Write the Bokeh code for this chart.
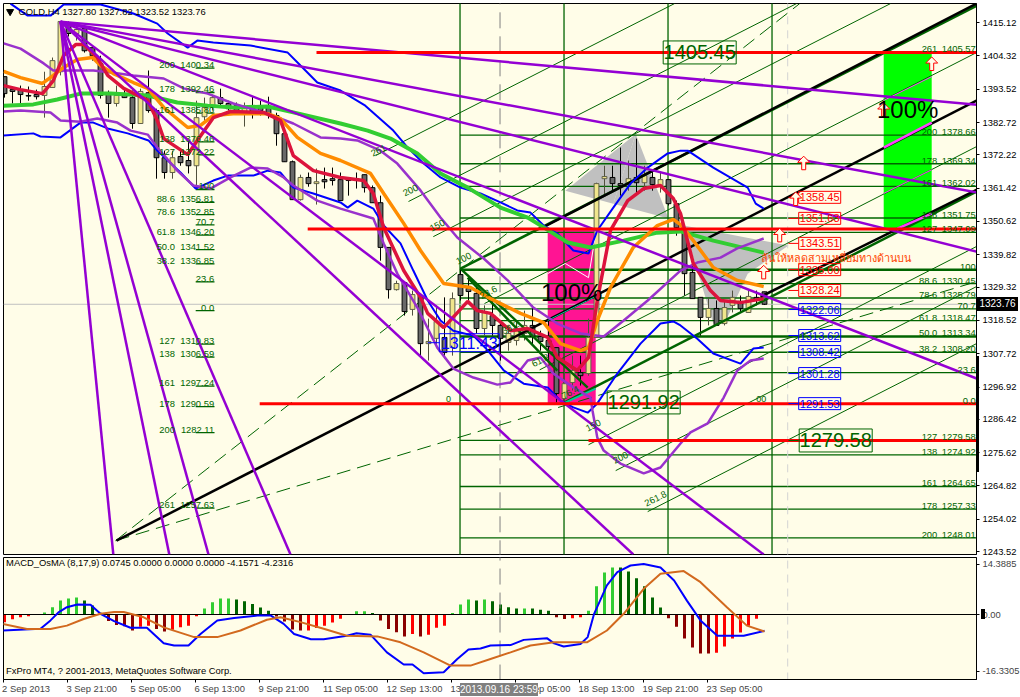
from bokeh.plotting import figure
from bokeh.layouts import column
from bokeh.models import Range1d, FixedTicker, Div, PrintfTickFormatter
from bokeh.core.properties import value
from bokeh.embed import file_html
from bokeh.resources import INLINE

FONT = "Liberation Sans"
BG = "#FFFDE8"
DG = "#006400"
TS = 9.4

# ---------- candles (bar index is the list position) ----------
opens = [1397.6,1393.4,1393.4,1391.5,1391.8,1391.5,1394.1,1399.2,1414.5,1411.6,1413.2,1407.0,1401.8,1391.8,1388.9,1391.8,1390.8,1382.4,1392.4,1386.6,1371.3,1366.5,1371.7,1370.4,1368.7,1384.6,1387.9,1390.8,1388.9,1388.2,1385.9,1387.6,1387.6,1387.9,1385.0,1379.1,1370.0,1357.7,1364.9,1362.9,1364.2,1364.5,1364.2,1364.5,1364.5,1365.8,1361.6,1356.7,1342.2,1328.5,1330.8,1322.1,1326.6,1311.0,1312.7,1313.0,1309.7,1333.4,1328.9,1327.3,1315.9,1320.1,1316.9,1311.4,1312.0,1314.3,1316.9,1313.3,1312.0,1309.7,1293.2,1298.4,1301.6,1301.3,1313.0,1364.5,1364.9,1362.9,1362.6,1364.9,1363.2,1364.9,1362.3,1364.2,1356.4,1347.6,1334.1,1326.0,1319.5,1322.4,1317.5,1323.4,1324.7,1321.1,1326.0,1327.8]
highs = [1397.6,1393.4,1394.7,1394.4,1393.4,1399.2,1403.8,1415.6,1415.5,1414.5,1414.2,1407.7,1404.4,1393.1,1394.7,1393.7,1393.1,1393.7,1399.6,1387.2,1373.6,1373.6,1373.6,1376.8,1389.8,1390.8,1391.8,1393.7,1389.8,1389.2,1389.2,1391.1,1389.8,1391.1,1385.9,1380.1,1370.4,1365.8,1366.5,1367.8,1368.1,1368.1,1366.5,1364.5,1366.5,1365.8,1362.3,1359.0,1342.2,1331.4,1330.8,1328.2,1326.6,1319.1,1323.4,1326.0,1327.6,1335.4,1333.0,1329.8,1323.4,1325.0,1318.5,1316.9,1318.5,1321.7,1323.4,1315.2,1318.5,1309.7,1302.3,1307.1,1307.1,1319.1,1363.2,1368.7,1368.7,1374.6,1370.4,1377.5,1368.7,1367.1,1366.5,1364.2,1357.4,1349.3,1336.3,1326.0,1326.0,1325.0,1325.0,1328.2,1326.6,1328.2,1328.2,1327.82]
lows = [1390.8,1388.9,1388.9,1389.8,1390.2,1384.3,1394.1,1398.0,1410.6,1409.3,1405.4,1402.8,1390.5,1384.3,1387.9,1390.8,1380.7,1382.4,1385.9,1364.5,1364.5,1364.5,1368.7,1366.2,1361.3,1383.3,1386.6,1387.6,1386.6,1385.9,1381.4,1384.0,1385.0,1384.0,1375.2,1370.0,1357.7,1357.4,1361.9,1356.1,1361.3,1362.3,1357.4,1359.0,1361.3,1360.0,1356.7,1337.9,1325.6,1328.2,1320.1,1320.1,1307.1,1305.5,1310.4,1306.2,1307.1,1325.0,1325.0,1314.3,1313.6,1313.6,1305.5,1308.7,1310.4,1312.0,1310.4,1308.7,1305.5,1291.9,1291.9,1295.8,1297.4,1300.6,1313.0,1359.0,1360.6,1359.0,1360.6,1359.0,1360.6,1360.6,1360.0,1355.8,1346.0,1326.6,1325.6,1313.6,1316.9,1316.9,1316.9,1321.1,1321.1,1321.1,1323.4,1323.52]
closes = [1392.1,1392.8,1391.8,1391.3,1391.1,1394.4,1402.8,1415.5,1411.6,1412.9,1406.0,1404.4,1391.5,1388.9,1391.5,1390.8,1382.4,1392.8,1386.6,1371.3,1366.5,1371.3,1369.7,1368.7,1384.3,1387.6,1390.8,1388.9,1387.2,1386.6,1387.6,1385.9,1386.6,1385.6,1379.1,1370.0,1357.7,1364.9,1362.9,1363.5,1363.5,1363.9,1357.4,1363.9,1363.9,1361.6,1356.7,1342.2,1328.5,1330.5,1321.4,1326.9,1311.0,1311.7,1318.2,1308.1,1325.6,1326.6,1327.9,1315.9,1321.1,1316.9,1312.7,1314.3,1315.2,1316.9,1313.3,1311.7,1310.0,1294.8,1298.0,1302.3,1300.6,1313.0,1362.9,1365.2,1362.9,1362.3,1364.5,1363.2,1365.5,1362.6,1364.2,1356.4,1348.6,1333.7,1325.6,1319.5,1322.4,1316.9,1322.7,1326.0,1322.4,1326.3,1325.0,1323.76]

# ---------- indicator lines: bar position, price ----------
blue_up_x = [.75,2.9,5.75,7.4,12,16.1,19.1,20.4,22.9,24.1,26.1,30.75,35.4,37,39.1,42,45.1,48.6,50.4,52.4,54.5,57,59.5,62,64.1,65.75,67.4,69.1,71.1,73,74.1,76.1,78.25,80.4,82.9,84.5,85.4,88.6,92.9,93.9,94.9]
blue_up_y = [1421.3,1417.4,1417.4,1421.0,1421.0,1418.1,1414.8,1411.6,1407.0,1409.3,1408.7,1407.7,1405.4,1401.2,1395.7,1393.1,1388.2,1380.1,1374.6,1369.4,1364.9,1361.6,1359.7,1356.8,1354.2,1353.5,1349.3,1346.7,1341.2,1340.2,1347.7,1355.1,1362.9,1368.1,1372.7,1373.6,1373.6,1368.1,1361.6,1356.4,1354.8]
blue_lo_x = [-.1,3.6,4.5,7,9.5,11.1,12.9,15.4,18,19.1,22,23.9,26.1,27.9,31.1,32.9,34.5,36.1,38.6,42,42.9,44.1,46.1,47.4,49.5,51.1,52.9,54.5,56.1,58.6,60.4,62.4,64.9,67.9,69.5,71.1,72.9,74.1,76.6,79.5,82,83.6,84.5,86.6,88.6,92,93.6,94.9]
blue_lo_y = [1378.5,1379.2,1378.2,1377.9,1382.7,1382.7,1380.8,1379.2,1376.9,1373.6,1366.5,1361.3,1363.9,1365.5,1365.5,1367.1,1366.5,1361.6,1359.7,1356.8,1355.1,1357.4,1354.8,1349.3,1343.5,1334.7,1325.0,1318.5,1315.2,1313.6,1308.8,1302.3,1298.0,1296.8,1292.5,1290.3,1288.6,1291.6,1301.3,1311.0,1317.5,1318.2,1316.9,1312.6,1307.8,1304.5,1309.4,1309.7]
purp_up_x = [-.1,2,4.9,6.1,11.1,13.6,16.1,19.9,22.4,25.4,28.6,32.9,36.1,39.5,42,44.1,47,49.1,52,54.5,56.6,59.9,62.9,66.1,69.1,72,74.9,77.4,80.4,84.5,86.6,89.5,91.6,94.9]
purp_up_y = [1408.4,1406.7,1401.9,1399.6,1399.6,1398.9,1398.0,1397.0,1393.8,1392.1,1388.9,1385.6,1382.4,1377.9,1377.5,1376.9,1373.6,1369.4,1360.7,1351.9,1345.4,1338.6,1331.5,1322.7,1317.5,1314.3,1313.3,1318.5,1325.0,1334.7,1337.3,1338.9,1341.9,1345.1]
purp_lo_x = [-.1,2,5.75,7,9.5,11.6,14.1,15.75,17.9,19.1,21.6,23.6,25.75,28.25,30.75,32.9,34.9,36.1,39.1,42,46.1,47.4,49.1,51.6,54.1,56.1,58.6,61.6,63.25,65.4,67,68.6,71.1,73.25,73.5,74.1,74.9,77,79.9,82,84.5,85.75,87.9,89.9,91.6,93.25,94.9]
purp_lo_y = [1386.3,1386.6,1386,1383.4,1383,1384,1382.7,1380.1,1378.8,1374.6,1367.1,1362.3,1361.3,1364.9,1368.1,1367.8,1364.9,1362.3,1357.4,1354.8,1351.6,1343.5,1333.7,1322.7,1309.7,1302.9,1300,1297.7,1298.4,1305.5,1306.5,1301.3,1296.8,1293.5,1289.3,1280.5,1276.3,1272.1,1268.9,1270.8,1278.6,1282.2,1285.1,1293.5,1302.3,1305.5,1306.2]
orange_x = [-.1,2,4.75,6.1,7.4,9.1,11,12,13.6,16.1,17.9,19.9,22.9,24.5,26.1,28.6,32.9,34.5,36.6,39.5,42,45.75,47.4,49.9,52,54.9,58.25,60.75,64.5,67.4,69.5,72,73,74.1,75.75,78.6,81.6,83.6,84.5,86.1,88.6,91.6,94.9]
orange_y = [1399.3,1397.3,1395.4,1398,1400.6,1403.2,1403.8,1401.2,1398.6,1395.7,1393.8,1387.6,1381.1,1381.8,1385,1385.6,1385.6,1384,1377.9,1372.7,1370.4,1366.2,1359.7,1350,1341.2,1330.5,1329.2,1325.6,1320.8,1317.8,1311,1308.7,1309.7,1318.5,1329.2,1342.2,1349.3,1351.3,1349.6,1344.4,1335.7,1331.5,1329.5]
red_x = [-.1,2,4.75,6.1,7.4,8.9,9.9,11.6,12.9,14.9,17.9,19.1,19.9,22.9,24.1,26.1,28.25,32.4,34.5,36.1,38.6,42,44.9,46.1,47.4,49.9,52,52.9,54.9,57.9,59.1,60.75,63.25,65.4,67.9,69.1,71.6,73,74.1,75.75,77.9,79.9,82,83.6,84.5,86.1,88.25,89.5,92,94.9]
red_y = [1394.7,1393.4,1392.1,1396.3,1404.5,1408,1408,1403.8,1398,1393.8,1389.9,1383.4,1377.5,1372.3,1376.9,1384.3,1386.3,1386,1383.4,1372,1367.1,1364.9,1363.9,1359.7,1348.7,1334.7,1326,1320.8,1316.2,1324.7,1321.7,1320.8,1315.2,1315.9,1313,1306.5,1302.3,1306.5,1325,1347.7,1357.4,1361.3,1362.3,1358.1,1353.2,1337,1328.2,1325,1324.3,1325.6]
green_x = [-.1,3.6,6.6,9.5,13.25,17.9,21.6,25.4,28.6,32.9,36.1,42,45.4,48.25,51.6,54.5,57.9,62,65.4,67.4,70.4,73.25,77.4,81.6,84.5,88.6,94.9]
green_y = [1388.2,1388.6,1390.2,1392.1,1392.1,1391.5,1389.2,1388.2,1387.6,1387.9,1386,1382.4,1380.1,1377.5,1372.7,1366.2,1361.6,1355.1,1351.9,1348.7,1343.8,1342.2,1344.4,1347,1347.4,1344.4,1340.5]

# ---------- fan from the top, channels ----------
fan_x0, fan_y0 = 7, 1415.45
fan_end_x = [121.6,121.6,121.6,121.6,94.9,78.6,35.75,25.5,20.6,13.6]
fan_end_y = [1388.5,1360.0,1340.8,1299.6,1242.6,1242.6,1242.6,1242.6,1242.6,1242.6]
thin_x0 = [46.4,50.5,53.6,60,66.9,73,76.4,80.4]
thin_y0 = [1372.0,1357.1,1345.7,1324.0,1302.5,1278.2,1269.8,1256.5]
thin_x1 = [83.75,99,110.75,121.5,121.5,121.5,121.5,121.5]
thin_y1 = [1421.3,1421.3,1421.3,1405.4,1374.9,1342.5,1329.5,1311.0]
thick_g_x0 = [57,69.9,57,57.9]
thick_g_y0 = [1335.3,1291.8,1335.3,1332.4]
thick_g_x1 = [121.5,121.5,72.9,69.1]
thick_g_y1 = [1420.6,1360.3,1296.7,1302.2]
black_x0 = [67,14,94.5]
black_y0 = [1348.3,1247.1,1326.2]
black_x1 = [121.5,121.5,121.5]
black_y1 = [1421.3,1389.8,1360.9]
dash_x0 = [13.9,13.9]
dash_y0 = [1247.1,1247.1]
dash_x1 = [99.4,121.5]
dash_y1 = [1421.3,1331.1]
channel_labels = ["100","150","200","261","150","200","261.8","23.6","38.2","61.8","76.4"]
channel_lab_x = [57.4,54.1,50.75,46.75,73.6,77,81.4,60.5,63.25,67,70.75]
channel_lab_y = [1338.6,1349.3,1360.7,1373.6,1284.4,1274,1260.7,1327.6,1316.2,1305.5,1295.1]
tint_x0 = [109.9,109.9,109.9,111.6]
tint_y0 = [1389.9,1374.6,1359.7,1348.3]
tint_x1 = [115.9,115.9,115.9,115.9]
tint_y1 = [1397.6,1382.7,1367.4,1353.2]

# ---------- levels ----------
red_levels = [1405.45,1348.2,1291.53,1279.58]
red_starts = [39,37.9,31.9,73]
grid_prices = [1405.57,1378.66,1369.34,1362.02,1351.75,1347.09,1335.0,1330.45,1325.79,1322.3,1318.47,1313.34,1308.20,1301.57,1291.53,1279.58,1274.92,1264.65,1257.33,1248.01]
grid_pct = ["261","200","178","161","138","127","100","88.6","78.6","70.7","61.8","50.0","38.2","23.6","0.0","127","138","161","178","200"]
grid_val = ["1405.57","1378.66","1369.34","1362.02","1351.75","1347.09","","1330.45","1325.79","","1318.47","1313.34","1308.20","","","1279.58","1274.92","1264.65","1257.33","1248.01"]
grid_width = [1.3,1.3,1.3,1.3,1.3,1.3,2.5,1.3,1.3,1.3,1.3,2.5,1.3,1.3,1.3,1.3,1.3,1.3,1.3,1.3]
vline_bars = [56.94,69.94,82.94,95.94]
left_prices = [1400.34,1392.46,1385.80,1376.46,1372.22,1361.0,1356.81,1352.85,1349.5,1346.20,1341.52,1336.85,1331.0,1321.7,1310.83,1306.59,1297.24,1290.59,1282.11,1257.63]
left_pct = ["200","178","161","138","127","100","88.6","78.6","70.7","61.8","50.0","38.2","23.6","0.0","127","138","161","178","200","261"]
left_val = ["1400.34","1392.46","1385.80","1376.46","1372.22","","1356.81","1352.85","","1346.20","1341.52","1336.85","","","1310.83","1306.59","1297.24","1290.59","1282.11","1257.63"]

red_tags = [1358.45,1351.63,1343.51,1335.00,1328.24]
blue_tags = [1322.06,1313.62,1308.42,1301.28,1291.53]
green_tags = [1405.45,1291.92,1279.58]
green_tag_x = [86.9,79.9,103.9]
arrow_x = [115.9,109.9,99.9,98.9,96.9,94.9]
arrow_y = [1401.8,1386.9,1369.6,1358.0,1346.2,1334.2]

tri1_x = [[70.1,78.9,76.1],[76.1,78.9,83]]
tri1_y = [[1360.6,1379.0,1356.4],[1356.4,1379.0,1351.6]]
tri2_x = [84.9,98,92.9,90,88.6,86.6]
tri2_y = [1349.3,1342.8,1333.7,1317.5,1317.5,1334.7]

price_ticks = [1415.12,1404.32,1393.52,1382.72,1372.22,1361.42,1350.62,1339.82,1329.32,1318.52,1307.72,1296.92,1286.42,1275.62,1264.82,1254.02,1243.52]

# ---------- MACD ----------
hist = [-2.2,-1.4,-.8,-.5,0,.6,2.1,4.0,4.6,4.9,4.0,2.6,.5,-1.9,-3.0,-3.4,-4.6,-3.5,-3.2,-4.2,-4.9,-4.4,-3.7,-3.2,-.5,1.7,3.5,4.6,4.6,4.3,3.8,3.0,2.0,1.1,-.6,-2.0,-4.3,-4.6,-4.6,-3.9,-3.2,-2.3,-1.2,0,.9,.9,.4,-1.7,-4.2,-5.1,-6.3,-5.6,-6.3,-5.8,-3.8,-3.2,.4,2.9,4.3,4.0,4.3,3.8,2.9,2.1,1.7,1.7,1.7,1.4,1.1,-.8,-1.3,-1.1,-.8,1.1,8.1,12.1,13.5,13.5,12.4,10.4,8.1,4.9,2.0,-1.1,-3.5,-6.9,-9.5,-11.2,-11.2,-11.0,-9.2,-6.9,-5.2,-3.2,-1.2,0]
hist_kind = "RRRRXLLLLLDDDXXXXRRXXRRRRLLLLDDDDDXXXXRRRRRRLLDXXXXRXRRRLLLDLDDDDLDDDXXRRLLLLDDDDDDXXXXXXRRRRRRR"
macd_x = [-.2,4.5,5.75,6.8,7.8,9.1,10.75,12,13.7,15.75,17.8,19.9,21.2,23,24.5,26.6,28.7,31.6,33.3,34.9,36.2,38.3,39.9,42.8,44,45.75,47.8,49.9,51,52.4,54.9,56.6,58,59.5,60.75,63.25,64.9,67.8,68.7,69.9,72,72.9,73.7,75.3,76.6,78.25,79.9,82,83.7,85.3,87,89.1,92.4,95]
macd_y = [-4.6,-4.1,-1.7,.7,2.1,2.9,2.8,.2,-1.9,-3.8,-3.8,-8.3,-8.9,-8.9,-5.6,-1.7,-1.0,-.3,-.3,-2.7,-5.6,-7.1,-7.1,-6.1,-5.4,-5.8,-10.9,-14.4,-14.4,-16.9,-16.6,-12.8,-10.1,-9.8,-8.9,-8.8,-7.3,-6.8,-8.3,-9.2,-8.5,-6.5,.2,8.4,12.2,14.1,14.5,13.5,9.8,4.0,-1.7,-6.1,-6.1,-4.7]
sig_x = [-.2,2.8,5.75,7.8,9.9,12,13.7,14.9,17.4,19.9,23.7,26.6,29.5,32.8,34.5,37,39.9,42.8,46.6,49.5,52.4,55.75,58.25,60.75,63.25,65.75,68.7,72.8,75.3,77.4,79.9,82,84.9,87,90.3,92.8,95]
sig_y = [-2.7,-4.2,-4.2,-3.2,-1.3,.2,.7,.7,-.8,-3.7,-6.5,-6.5,-4.6,-1.5,-.8,-2.2,-4.1,-6.1,-6.3,-8,-10.9,-14.7,-14.7,-12.8,-10.9,-8.9,-8,-8,-4.6,.2,7.4,11.7,12.5,9.3,2.1,-3.2,-4.9]
date_ticks = [0,8,16,24,32,40,48,56,64,72,80,88]
date_labels = ["2 Sep 2013","3 Sep 21:00","5 Sep 05:00","6 Sep 13:00","9 Sep 21:00","11 Sep 05:00","12 Sep 13:00","13 Sep 21:00","17 Sep 05:00","18 Sep 13:00","19 Sep 21:00","23 Sep 05:00"]
date_center_shift = [2.7,2.9,2.9,2.9,2.9,3.25,3.25,3.25,3.25,3.25,3.25,3.25]

def txt(p, x, y, s, size=TS, color="black", align="left", base="middle", angle=0, font=FONT):
    p.text(x=x, y=y, text=s, text_font=value(font), text_font_size=f"{size}px", text_color=color,
           text_align=align, text_baseline=base, angle=angle)

def chip(left, top, w, h, bg, text="", color="white"):
    return Div(text=text, width=w, height=h, margin=0,
               styles={"position": "absolute", "left": f"{left}px", "top": f"{top}px", "background-color": bg,
                       "color": color, "font-family": FONT, "font-size": "10px", "line-height": f"{h}px",
                       "text-align": "center", "z-index": "5"})

# ============ main panel ============
p = figure(width=1020, height=556, output_backend="svg", toolbar_location=None,
           x_range=Range1d(-.125, 121.5), y_range=Range1d(1242.59, 1421.33),
           y_axis_location="right", x_axis_location=None,
           min_border_left=3, min_border_right=44, min_border_top=3, min_border_bottom=2,
           frame_width=973, frame_height=551, background_fill_color=BG, border_fill_color="white",
           outline_line_color="black")
p.grid.visible = False
p.yaxis.ticker = FixedTicker(ticks=price_ticks)
p.yaxis.formatter = PrintfTickFormatter(format="%.2f")
p.yaxis.major_tick_in = 0
p.yaxis.major_tick_out = 3
p.yaxis.minor_tick_line_color = None
p.yaxis.major_label_standoff = 3
p.yaxis.major_label_text_font = FONT
p.yaxis.major_label_text_font_size = f"{TS}px"
p.yaxis.major_label_text_color = "black"
p.yaxis.axis_line_color = "black"

# rectangles and triangles behind everything
p.quad(left=[67.9], right=[73.9], bottom=[1291.53], top=[1348.2], color="#FF1493", line_width=0)
p.quad(left=[109.9], right=[115.9], bottom=[1348.2], top=[1405.45], color="#00FF00", line_width=0)
p.patches(tri1_x, tri1_y, color="#C0C0C0", line_width=0)
p.patch(tri2_x, tri2_y, color="#C0C0C0", line_width=0)

# grid
p.segment(x0=vline_bars, x1=vline_bars, y0=[1242]*4, y1=[1422]*4, line_color=DG, line_width=1.3)
p.segment(x0=[56.94]*len(grid_prices), x1=[121.5]*len(grid_prices), y0=grid_prices, y1=grid_prices,
          line_color=DG, line_width=grid_width)
p.segment(x0=[23.9]*len(left_prices), x1=[26.25]*len(left_prices), y0=left_prices, y1=left_prices,
          line_color=DG, line_width=1.3)
p.line([-.125, 121.5], [1323.76, 1323.76], line_color="#C0C0C0", line_width=1)
p.line([61.94, 61.94], [1242, 1422], line_color="#808080", line_width=1, line_dash="16 8")
p.line([97.9, 97.9], [1242, 1422], line_color="#D3D3D3", line_width=1, line_dash="8 6")

# thin channels
p.segment(x0=thin_x0, y0=thin_y0, x1=thin_x1, y1=thin_y1, line_color=DG, line_width=1)
p.segment(x0=dash_x0, y0=dash_y0, x1=dash_x1, y1=dash_y1, line_color=DG, line_width=1, line_dash="14 7")

# candles
wick_col = ["black" if c < o else "#50503C" for o, c in zip(opens, closes)]
body_col = ["#696969" if c < o else "#F0E68C" for o, c in zip(opens, closes)]
edge_col = ["black" if c < o else "#60604A" for o, c in zip(opens, closes)]
bars = list(range(len(opens)))
p.segment(x0=bars, x1=bars, y0=lows, y1=highs, line_color=wick_col, line_width=1)
p.vbar(x=bars, width=.6, bottom=[min(o, c) for o, c in zip(opens, closes)],
       top=[max(o, c) for o, c in zip(opens, closes)], fill_color=body_col, line_color=edge_col, line_width=1)

# channels
p.segment(x0=thick_g_x0, y0=thick_g_y0, x1=thick_g_x1, y1=thick_g_y1, line_color=DG, line_width=2.5)
p.segment(x0=black_x0, y0=black_y0, x1=black_x1, y1=black_y1, line_color="black", line_width=2.5)

# tinted parts of the channels over the rectangles
p.segment(x0=tint_x0, y0=tint_y0, x1=tint_x1, y1=tint_y1, line_color="#FF40FF", line_width=[1,2.5,1,2.5])
p.segment(x0=[67.9,70], y0=[1318.5,1291.8], x1=[73.9,73.9], y1=[1326.3,1296.4], line_color="#00CC99", line_width=[1,2])
p.line([67.9,70.1,73,73.9], [1333.7,1337,1332.4,1346.7], line_color="white", line_width=1)

# indicators
p.line(blue_up_x, blue_up_y, line_color="#0000FF", line_width=2)
p.line(blue_lo_x, blue_lo_y, line_color="#0000FF", line_width=2)
p.line(green_x, green_y, line_color="#32CD32", line_width=4)
p.line(purp_up_x, purp_up_y, line_color="#9932CC", line_width=2.5)
p.line(purp_lo_x, purp_lo_y, line_color="#9932CC", line_width=2.5)
p.line(orange_x, orange_y, line_color="#FF8C00", line_width=3.5)
p.line(red_x, red_y, line_color="#DC143C", line_width=3.5)

n = len(fan_end_x)
p.segment(x0=[fan_x0]*n, y0=[fan_y0]*n, x1=fan_end_x, y1=fan_end_y, line_color="#9400D3", line_width=2.5)

# red levels
p.segment(x0=red_starts, x1=[121.5]*4, y0=red_levels, y1=red_levels, line_color="#FF0000", line_width=3)

# level texts
gx_pct = [121.4 if v == "" else 116.6 for v in grid_val]
txt(p, gx_pct, grid_prices, grid_pct, color=DG, align="right", base="bottom")
txt(p, [121.4]*len(grid_prices), grid_prices, grid_val, color=DG, align="right", base="bottom")
lx_pct = [26.2 if v == "" else 21.3 for v in left_val]
txt(p, lx_pct, left_prices, left_pct, color=DG, align="right", base="bottom")
txt(p, [26.2]*len(left_prices), left_prices, left_val, color=DG, align="right", base="bottom")
txt(p, channel_lab_x, channel_lab_y, channel_labels, color=DG, align="center", angle=.47)

# tags with boxes
tx = [101.9]*5
p.rect(x=tx, y=red_tags, width=42, height=12, width_units="screen", height_units="screen",
       fill_color=None, line_color="#FF0000", line_width=1)
txt(p, tx, red_tags, [f"{v:.2f}" for v in red_tags], size=11, color="#FF0000", align="center")
p.segment(x0=[98]*5, x1=[99.25]*5, y0=red_tags, y1=red_tags, line_color="#FF0000", line_width=1)
p.rect(x=tx, y=blue_tags, width=42, height=12, width_units="screen", height_units="screen",
       fill_color=None, line_color="#0000FF", line_width=1)
txt(p, tx, blue_tags, [f"{v:.2f}" for v in blue_tags], size=11, color="#0000FF", align="center")
p.segment(x0=[98]*5, x1=[99.25]*5, y0=blue_tags, y1=blue_tags, line_color="#0000FF", line_width=1)
p.rect(x=green_tag_x, y=green_tags, width=73, height=23, width_units="screen", height_units="screen",
       fill_color=None, line_color=DG, line_width=1)
txt(p, green_tag_x, green_tags, [f"{v:.2f}" for v in green_tags], size=20, color=DG, align="center")
p.segment(x0=[98], x1=[99.25], y0=[1279.58], y1=[1279.58], line_color=DG, line_width=1)
p.rect(x=[58.1], y=[1311.3], width=60, height=18, width_units="screen", height_units="screen",
       fill_color=None, line_color="#0000FF", line_width=1)
txt(p, [58.1], [1311.3], ["1311.43"], size=16, color="#0000FF", align="center")
p.segment(x0=[52.9], x1=[54.4], y0=[1311.3], y1=[1311.3], line_color="#0000FF", line_width=1)

# arrows
for ax, ay in zip(arrow_x, arrow_y):
    p.patch([ax-.25, ax+.25, ax+.25, ax+.75, ax, ax-.75, ax-.25],
            [ay-2.2, ay-2.2, ay+.2, ay+.2, ay+2.2, ay+.2, ay+.2],
            fill_color=BG, line_color="#FF0000", line_width=1)

txt(p, [70.9, 112.9], [1327.6, 1386.9], ["100%", "100%"], size=24, color="black", align="center")
txt(p, [94.6], [1339.0], ["ลุ้นให้หลุดสามเหลี่ยมทางด้านบน"], size=10.8, color="#FF4500", font="Noto Sans")
txt(p, [55.5, 94.6], [1292.9, 1292.9], ["0", "00"], size=9, color=DG, align="center")

# header
p.scatter([.7], [1418.7], marker="inverted_triangle", size=7, color="black")
txt(p, [1.75], [1418.7], ["GOLD,H4  1327.80 1327.82 1323.52 1323.76"])

# ============ MACD panel ============
q = figure(width=1020, height=141, output_backend="svg", toolbar_location=None,
           x_range=Range1d(-.125, 121.5), y_range=Range1d(-18.7, 16.4),
           y_axis_location="right", x_axis_location="below",
           min_border_left=3, min_border_right=44, min_border_top=1, min_border_bottom=18,
           frame_width=973, frame_height=122, background_fill_color=BG, border_fill_color="white",
           outline_line_color="black")
q.grid.visible = False
q.yaxis.ticker = FixedTicker(ticks=[14.3885, 0, -16.3305])
q.yaxis.major_label_overrides = {14.3885: "14.3885", 0: "0.00", -16.3305: "-16.3305"}
q.yaxis.major_tick_in = 0
q.yaxis.major_tick_out = 3
q.yaxis.minor_tick_line_color = None
q.yaxis.major_label_standoff = 3
q.yaxis.major_label_text_font = FONT
q.yaxis.major_label_text_font_size = f"{TS}px"
q.yaxis.axis_line_color = "black"

centers = [t + s for t, s in zip(date_ticks, date_center_shift)]
q.xaxis.ticker = FixedTicker(ticks=centers, minor_ticks=[t - .1 for t in date_ticks])
q.xaxis.major_label_overrides = dict(zip(centers, date_labels))
q.xaxis.major_tick_line_color = None
q.xaxis.major_tick_out = 0
q.xaxis.major_tick_in = 0
q.xaxis.minor_tick_out = 3
q.xaxis.minor_tick_in = 0
q.xaxis.minor_tick_line_color = "black"
q.xaxis.major_label_standoff = 0
q.xaxis.major_label_text_font = FONT
q.xaxis.major_label_text_font_size = f"{TS}px"
q.xaxis.axis_line_color = "black"

hist_colors = {"L": "#32CD32", "D": "#006400", "R": "#FF0000", "X": "#8B0000"}
q.vbar(x=list(range(len(hist))), width=.375, bottom=0, top=hist,
       fill_color=[hist_colors[k] for k in hist_kind], line_width=0)
q.line([-.125, 121.5], [0, 0], line_color="black", line_width=1)
q.line([61.94, 61.94], [-19, 17], line_color="#808080", line_width=1, line_dash="16 8")
q.line([97.9, 97.9], [-19, 17], line_color="#D3D3D3", line_width=1, line_dash="8 6")
q.line(macd_x, macd_y, line_color="#0000FF", line_width=2)
q.line(sig_x, sig_y, line_color="#D2691E", line_width=2)
txt(q, [.2], [14.9], ["MACD_OsMA (8,17,9) 0.0745 0.0000 0.0000 0.0000 -4.1571 -4.2316"])
txt(q, [.2], [-16.2], ["FxPro MT4, ? 2001-2013, MetaQuotes Software Corp."])

layout = column(p, q, chip(460, 683, 78, 13, "#808080", "2013.09.16 23:59"),
                chip(977, 356, 2, 116, "black"), chip(981, 609, 4, 10, "black"),
                chip(977, 297, 41, 14, "black", "1323.76"),
                spacing=0, styles={"position": "absolute", "left": "0", "top": "0"})
open("out.html", "w").write(file_html(layout, INLINE))
